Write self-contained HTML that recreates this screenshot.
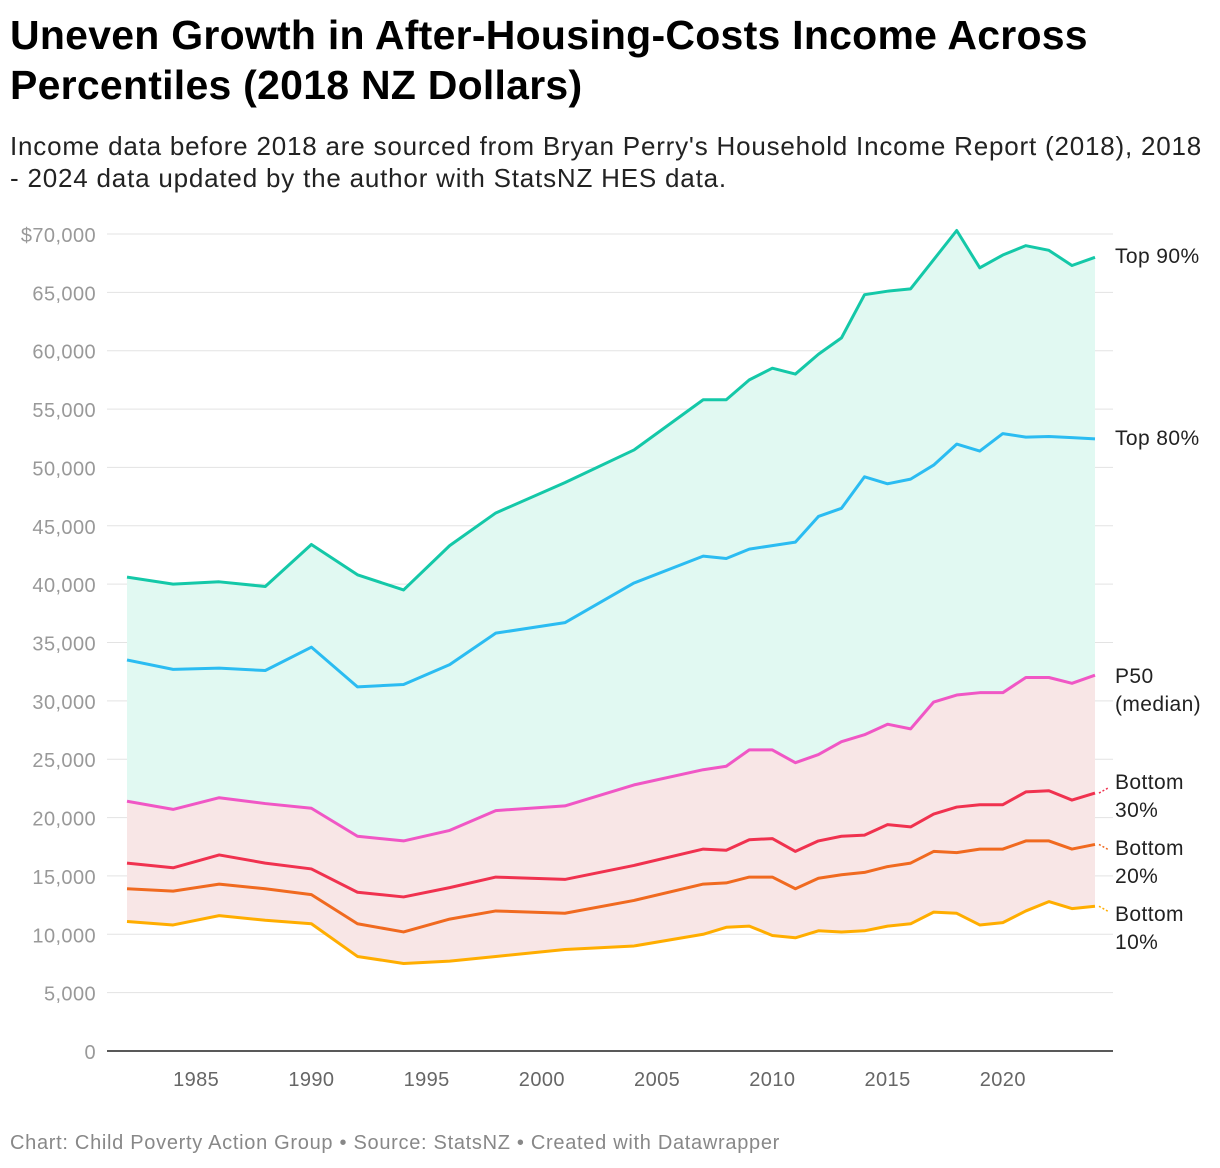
<!DOCTYPE html>
<html><head><meta charset="utf-8"><style>
body{margin:0;background:#fff;font-family:"Liberation Sans",sans-serif;}
#wrap{position:relative;width:1220px;height:1168px;overflow:hidden;}
h1{position:absolute;left:10px;top:10px;margin:0;font-size:41px;line-height:50px;font-weight:bold;color:#000;letter-spacing:0.25px;white-space:nowrap;}
#sub{position:absolute;left:10px;top:130px;font-size:26px;line-height:32px;color:#222;width:1210px;letter-spacing:0.8px;white-space:nowrap;}
#foot{position:absolute;left:10px;top:1132px;font-size:20px;color:#888;letter-spacing:0.7px;}
svg{position:absolute;left:0;top:0;}
</style></head><body>
<div id="wrap">
<h1>Uneven Growth in After-Housing-Costs Income Across<br>Percentiles (2018 NZ Dollars)</h1>
<div id="sub">Income data before 2018 are sourced from Bryan Perry's Household Income Report (2018), 2018<br>- 2024 data updated by the author with StatsNZ HES data.</div>
<svg id="chart" width="1220" height="1168"></svg>
<div id="foot">Chart: Child Poverty Action Group • Source: StatsNZ • Created with Datawrapper</div>
</div>
<script>
const years=[1982,1984,1986,1988,1990,1992,1994,1996,1998,2001,2004,2007,2008,2009,2010,2011,2012,2013,2014,2015,2016,2017,2018,2019,2020,2021,2022,2023,2024];
const top90=[40600,40000,40200,39800,43400,40800,39500,43300,46100,48700,51500,55800,55800,57500,58500,58000,59700,61100,64800,65100,65300,67800,70300,67100,68200,69000,68600,67300,68000];
const top80=[33500,32700,32800,32600,34600,31200,31400,33100,35800,36700,40100,42400,42200,43000,43300,43600,45800,46500,49200,48600,49000,50200,52000,51400,52900,52600,52650,52550,52450];
const p50=[21400,20700,21700,21200,20800,18400,18000,18900,20600,21000,22800,24100,24400,25800,25800,24700,25400,26500,27100,28000,27600,29900,30500,30700,30700,32000,32000,31500,32200];
const bottom30=[16100,15700,16800,16100,15600,13600,13200,14000,14900,14700,15900,17300,17200,18100,18200,17100,18000,18400,18500,19400,19200,20300,20900,21100,21100,22200,22300,21500,22100];
const bottom20=[13900,13700,14300,13900,13400,10900,10200,11300,12000,11800,12900,14300,14400,14900,14900,13900,14800,15100,15300,15800,16100,17100,17000,17300,17300,18000,18000,17300,17700];
const bottom10=[11100,10800,11600,11200,10900,8100,7500,7700,8100,8700,9000,10000,10600,10700,9900,9700,10300,10200,10300,10700,10900,11900,11800,10800,11000,12000,12800,12200,12400];
const yTicks=[0,5000,10000,15000,20000,25000,30000,35000,40000,45000,50000,55000,60000,65000,70000];
const yTickLabels=["0","5,000","10,000","15,000","20,000","25,000","30,000","35,000","40,000","45,000","50,000","55,000","60,000","65,000","$70,000"];
const xTicks=[1985,1990,1995,2000,2005,2010,2015,2020];

const NS="http://www.w3.org/2000/svg";
const svg=document.getElementById('chart');
const X=y=>127+(y-1982)*(1095-127)/42;
const Y=v=>1051-v*(1051-234)/70000;
function mk(t,a){const e=document.createElementNS(NS,t);for(const k in a)e.setAttribute(k,a[k]);svg.appendChild(e);return e;}
yTicks.forEach((t,i)=>{
 if(t>0){const g=mk('line',{x1:107,x2:1113,y1:Y(t),y2:Y(t),stroke:'#e3e3e3','stroke-width':1});
 
 }
 const l=mk('text',{x:96,y:Y(t)+8,'text-anchor':'end','font-size':20,fill:'#999','font-family':'Liberation Sans, sans-serif','letter-spacing':'0.4'});
 l.textContent=yTickLabels[i];
 
 
});
function pts(arr){return arr.map((v,i)=>X(years[i])+','+Y(v));}
function band(a,b,fill,name){
 const p=pts(a).concat(pts(b).reverse());
 const e=mk('polygon',{points:p.join(' '),fill:fill});
 
 
}
band(top90,p50,'#e1f9f2','upper-band-area');
band(p50,bottom10,'#f8e6e6','lower-band-area');
const series=[[top90,'#14c8a8','line-top-90'],[top80,'#2bbcf2','line-top-80'],[p50,'#f057c5','line-p50'],[bottom30,'#f0324f','line-bottom-30'],[bottom20,'#f06a20','line-bottom-20'],[bottom10,'#ffad00','line-bottom-10']];
series.forEach(s=>{
 const e=mk('polyline',{points:pts(s[0]).join(' '),fill:'none',stroke:s[1],'stroke-width':3,'stroke-linejoin':'round'});
 
 
});
const ax=mk('line',{x1:107,x2:1113,y1:1051,y2:1051,stroke:'#222','stroke-width':1.5});


xTicks.forEach(t=>{
 const l=mk('text',{x:X(t),y:1086,'text-anchor':'middle','font-size':20,fill:'#666','font-family':'Liberation Sans, sans-serif','letter-spacing':'0.4'});
 l.textContent=t;
 
 
});
const labels=[[['Top 90%'],263],[['Top 80%'],445],[['P50','(median)'],683],[['Bottom','30%'],789],[['Bottom','20%'],855],[['Bottom','10%'],921]];
labels.forEach((lb,i)=>{
 lb[0].forEach((s,j)=>{
  const t=mk('text',{x:1115,y:lb[1]+j*28,'font-size':21,fill:'#222','font-family':'Liberation Sans, sans-serif','letter-spacing':'0.4'});
  t.textContent=s;
  
  
 });
});
[[bottom30,'#f0324f',-1],[bottom20,'#f06a20',1],[bottom10,'#ffad00',1]].forEach(c=>{
 const v=c[0][c[0].length-1];
 const e=mk('line',{x1:1099,y1:Y(v),x2:1108,y2:Y(v)+c[2]*5,stroke:c[1],'stroke-width':1.5,'stroke-dasharray':'2,2'});
 
 
});
</script>
</body></html>
